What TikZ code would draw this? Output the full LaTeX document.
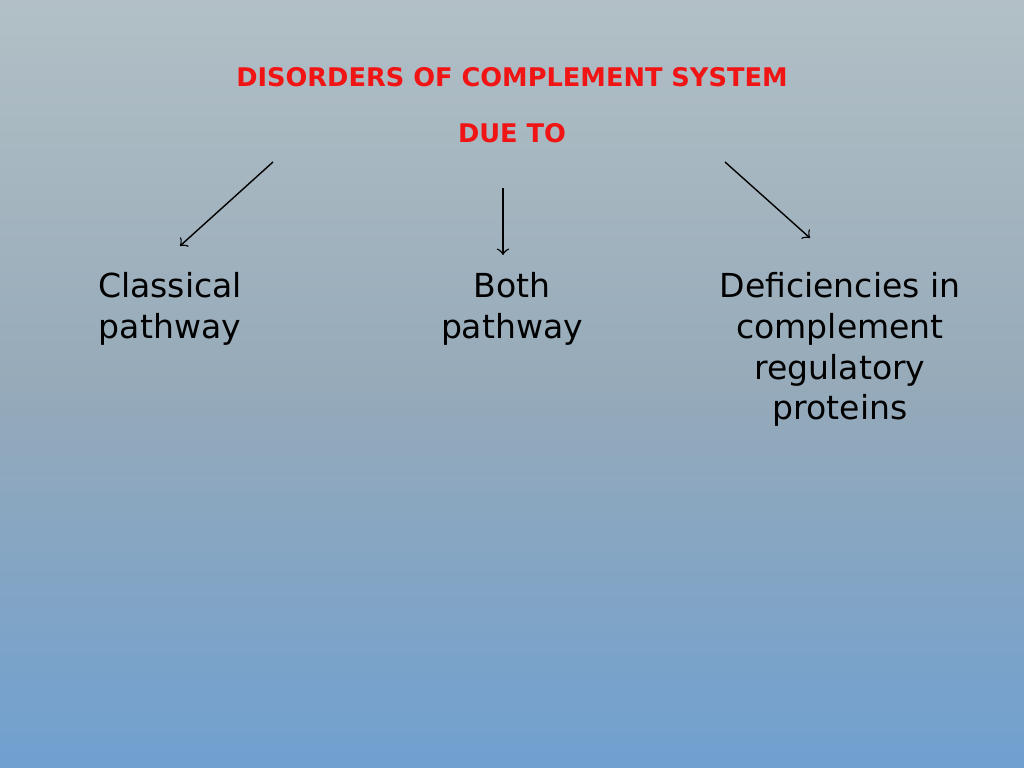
\documentclass[tikz,border=0pt]{standalone}
\usepackage{fontspec}
\setmainfont{DejaVu Sans}
\definecolor{bgtop}{RGB}{178,192,198}
\definecolor{bgmid}{RGB}{150,170,185}
\definecolor{bgbot}{RGB}{112,160,208}
\definecolor{titlered}{RGB}{240,20,20}
\tikzset{
  lbl/.style={align=center,font=\fontsize{9.4pt}{11.6pt}\selectfont,text=black},
  ttl/.style={font=\bfseries\fontsize{7.3pt}{8pt}\selectfont,text=titlered},
  arr/.style={->,>=to,thin,black}
}
\begin{document}
\begin{tikzpicture}[x=0.01cm,y=-0.01cm]
\useasboundingbox (0,0) rectangle (1024,768);
\shade[top color=bgtop,bottom color=bgbot,middle color=bgmid] (0,0) rectangle (1024,768);
\node[ttl] (t1) at (512,77) {DISORDERS OF COMPLEMENT SYSTEM};
\node[ttl] (t2) at (512,133) {DUE TO};
\coordinate (s1) at (273,162);
\coordinate (e1) at (180,246);
\coordinate (s2) at (503,188);
\coordinate (e2) at (503,255);
\coordinate (s3) at (725,162);
\coordinate (e3) at (810,238);
\draw[arr] (s1) -- (e1);
\draw[arr] (s2) -- (e2);
\draw[arr] (s3) -- (e3);
\node[lbl,anchor=north] (a) at (170,260) {Classical\\pathway};
\node[lbl,anchor=north] (b) at (512,260) {Both\\pathway};
\node[lbl,anchor=north] (c) at (840,260) {Deficiencies in\\complement\\regulatory\\proteins};
\end{tikzpicture}
\end{document}
